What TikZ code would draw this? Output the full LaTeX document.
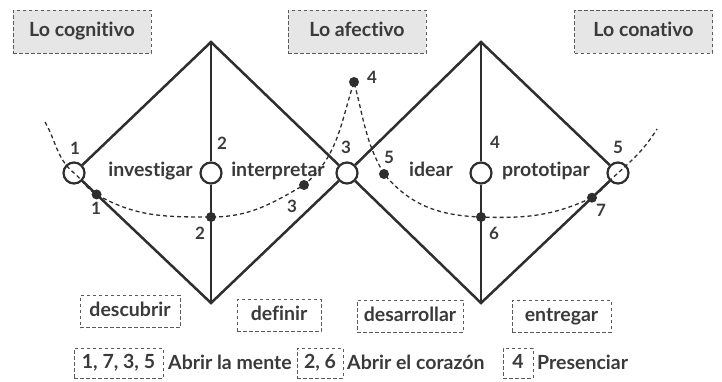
\documentclass[tikz,border=0pt]{standalone}
\usepackage{fontspec}
\setmainfont{Lato}[Ligatures=NoCommon]
\usetikzlibrary{calc}
\definecolor{ink}{HTML}{2E2E2E}
\definecolor{txt}{HTML}{3A3A3A}
\definecolor{boxfill}{HTML}{E6E6E6}
\definecolor{dashc}{HTML}{5A5A5A}
\begin{document}
\begin{tikzpicture}[x=1pt,y=-1pt,
  edge/.style={draw=ink,line width=2.5pt},
  ring/.style={circle,draw=ink,line width=2.2pt,minimum size=21pt,inner sep=0pt},
  dotn/.style={circle,fill=ink,minimum size=10pt,inner sep=0pt},
  num/.style={font=\bfseries\fontsize{17}{17}\selectfont,text=txt,inner sep=0pt},
  lbl/.style={font=\bfseries\fontsize{19.5}{19.5}\selectfont,text=txt,inner sep=0pt},
  headbox/.style={draw=dashc,line width=1pt,dash pattern=on 3.5pt off 2.5pt,fill=boxfill,minimum width=138pt,minimum height=43pt,inner sep=0pt,font=\bfseries\fontsize{19.5}{19.5}\selectfont,text=txt,text height=14pt,text depth=4pt},
  phasebox/.style={draw=dashc,line width=1pt,dash pattern=on 3.5pt off 2.5pt,minimum height=32pt,inner sep=0pt,font=\bfseries\fontsize{19.5}{19.5}\selectfont,text=txt,text height=14pt,text depth=4pt},
  keybox/.style={draw=dashc,line width=1pt,dash pattern=on 3.5pt off 2.5pt,minimum height=30pt,inner sep=0pt,font=\bfseries\fontsize{19.5}{19.5}\selectfont,text=txt,text height=14pt,text depth=4pt},
  keytxt/.style={font=\bfseries\fontsize{19.5}{19.5}\selectfont,text=txt,inner sep=0pt,anchor=base west},
  curve/.style={draw=ink,line width=1.3pt,dash pattern=on 4pt off 3pt}
]
\useasboundingbox (0,0) rectangle (722,381);

% header boxes
\node[headbox] (hcog) at (82,31.5) {Lo cognitivo};
\node[headbox] (hafe) at (357,31.5) {Lo afectivo};
\node[headbox] (hcon) at (643.5,31.5) {Lo conativo};

% diamonds
\coordinate (t1) at (211,42);
\coordinate (b1) at (211,303);
\coordinate (t2) at (481,42);
\coordinate (b2) at (481,303);
\node[ring] (c1) at (74,173) {};
\node[ring] (c2) at (211,173) {};
\node[ring] (c3) at (347,173) {};
\node[ring] (c4) at (481,173) {};
\node[ring] (c5) at (618,173) {};

\draw[edge,line join=miter] (c1) -- (t1) -- (c3);
\draw[edge,line join=miter] (c1) -- (b1) -- (c3);
\draw[edge] (t1) -- (c2);
\draw[edge] (c2) -- (b1);
\draw[edge,line join=miter] (c3) -- (t2) -- (c5);
\draw[edge,line join=miter] (c3) -- (b2) -- (c5);
\draw[edge] (t2) -- (c4);
\draw[edge] (c4) -- (b2);

% dots
\node[dotn] (d1) at ($(c1.center)!0.165!(b1)$) {};
\node[dotn] (d2) at (211,217) {};
\node[dotn] (d3) at (304,185) {};
\node[dotn] (d4) at (354,82) {};
\node[dotn] (d5) at (384,174) {};
\node[dotn] (d6) at (481,217) {};
\node[dotn] (d7) at ($(c5.center)!0.19!(b2)$) {};
\coordinate (s1) at (45,122);
\coordinate (e1) at (657,129);

% dashed path
\draw[curve] (s1) to[out=-60,in=140] (c1.center)
  to[out=-40,in=150] (d1.center)
  to[out=-30,in=180] (d2.center)
  to[out=0,in=-150] (d3.center)
  to[out=40,in=-108] (d4.center)
  to[out=-75,in=120] (d5.center)
  to[out=-50,in=178] (d6.center)
  to[out=-2,in=-155] (d7.center)
  to[out=35,in=-140] (c5.center)
  to[out=42,in=-122] (e1);

% numbers
\node[num] (n1a) at (75,148) {1};
\node[num] (n1b) at (96,208) {1};
\node[num] (n2a) at (222,143) {2};
\node[num] (n2b) at (200,233) {2};
\node[num] (n3a) at (346,147) {3};
\node[num] (n3b) at (292,206) {3};
\node[num] (n4a) at (372,77) {4};
\node[num] (n5a) at (389,157) {5};
\node[num] (n4b) at (495,142) {4};
\node[num] (n6) at (494,233) {6};
\node[num] (n7) at (601,210) {7};
\node[num] (n5b) at (618,147) {5};

% inner labels
\node[lbl,anchor=base] (linv) at (150.5,176) {investigar};
\node[lbl,anchor=base] (lint) at (278,176) {interpretar};
\node[lbl,anchor=base] (lide) at (431,176) {idear};
\node[lbl,anchor=base] (lpro) at (546,176) {prototipar};

% phase boxes
\node[phasebox,minimum width=100pt] (pdes) at (130,311.5) {descubrir};
\node[phasebox,minimum width=84pt] (pdef) at (279,315.5) {definir};
\node[phasebox,minimum width=106pt] (pdsa) at (410,316) {desarrollar};
\node[phasebox,minimum width=99pt] (pent) at (561.5,316) {entregar};

% legend
\node[keybox,minimum width=89pt] (k1) at (118.5,363) {1, 7, 3, 5};
\node[keytxt] (kt1) at (168,369) {Abrir la mente};
\node[keybox,minimum width=46pt] (k2) at (320,363) {2, 6};
\node[keytxt] (kt2) at (347,369) {Abrir el corazón};
\node[keybox,minimum width=30pt] (k3) at (518,363) {4};
\node[keytxt] (kt3) at (537,369) {Presenciar};
\end{tikzpicture}
\end{document}
